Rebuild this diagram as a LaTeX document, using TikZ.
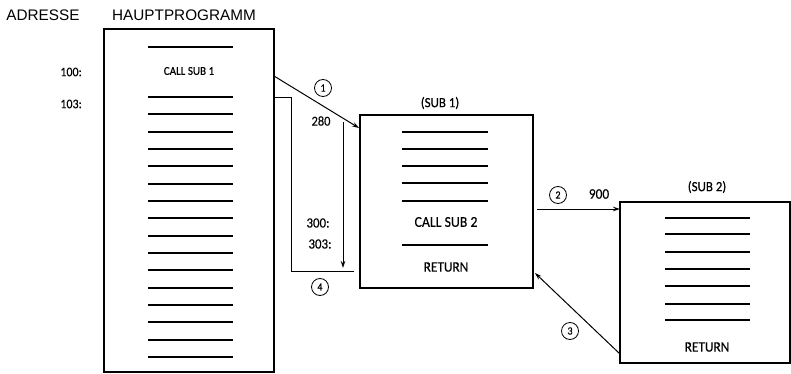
\documentclass[tikz,border=0pt]{standalone}
\usepackage{fontspec}
\setmainfont{Liberation Sans}
\newfontfamily\sm[FakeStretch=0.92,FakeBold=0.3]{Carlito}
\usetikzlibrary{arrows.meta}
\begin{document}
\begin{tikzpicture}[x=1pt,y=-1pt,
 box/.style={draw, line width=1.2pt, rectangle, inner sep=0pt, outer sep=0pt},
 codeline/.style={line width=1.1pt},
 lbl/.style={font=\sm\fontsize{#1}{#1}\selectfont, inner sep=0pt},
 hdr/.style={font=\fontsize{15.3}{15.3}\selectfont, inner sep=0pt},
 num/.style={draw, circle, line width=0.8pt, minimum size=17pt, inner sep=0pt, font=\sm\fontsize{11}{11}\selectfont},
 conn/.style={line width=1pt},
 arr/.style={conn, -{Stealth[length=7pt,width=4.5pt]}},
]
\useasboundingbox (0,0) rectangle (791,374);
% headers
\node[hdr] (adr) at (43,15) {ADRESSE};
\node[hdr] (hp) at (184,15) {HAUPTPROGRAMM};
% boxes
\node[box, minimum width=170pt, minimum height=343pt] (main) at (189,200.5) {};
\node[box, minimum width=173pt, minimum height=173pt] (sub1) at (446.5,201.5) {};
\node[box, minimum width=170pt, minimum height=161pt] (sub2) at (705,282.5) {};
% main program lines
\foreach \y in {47,97,114,132,149,166,184,201,218,236,253,270,288,305,322,340,357}{\draw[codeline] (148,\y) -- (233,\y);}
\node[lbl=12] (call1) at (189,71) {CALL SUB 1};
\node[lbl=13, anchor=east] (a100) at (82,72) {100:};
\node[lbl=13, anchor=east] (a103) at (82,104) {103:};
% sub1 contents
\foreach \y in {132,149,166,183,201,245}{\draw[codeline] (402,\y) -- (488,\y);}
\node[lbl=15] (call2) at (446,222) {CALL SUB 2};
\node[lbl=14.5] (ret1) at (446,267) {RETURN};
\node[lbl=14] (s1lbl) at (440,103) {(SUB 1)};
% sub2 contents
\foreach \y in {218,234,252,269,286,304,320}{\draw[codeline] (665,\y) -- (750,\y);}
\node[lbl=14.5] (ret2) at (707,347) {RETURN};
\node[lbl=14] (s2lbl) at (707,187) {(SUB 2)};
% addresses
\node[lbl=13.5] (a280) at (321,121) {280};
\node[lbl=14] (a300) at (318,223) {300:};
\node[lbl=14] (a303) at (320,244) {303:};
\node[lbl=14.5] (a900) at (599,194) {900};
% connector coordinates
\path (main.north east) ++(0,47) coordinate (a1s);
\path (sub1.north west) ++(-1,13) coordinate (a1e);
\path (main.north east) ++(0,69) coordinate (r4e);
\coordinate (r4c1) at (291,98);
\coordinate (r4c2) at (291,271);
\path (sub1.south west) ++(-6,-17) coordinate (r4s);
\coordinate (dts) at (343,122);
\coordinate (dte) at (343,268);
\path (sub1.north east) ++(4,94) coordinate (a2s);
\path (sub2.north west) ++(0,7) coordinate (a2e);
\path (sub2.south west) ++(0,-9) coordinate (a3s);
\path (sub1.south east) ++(2,-15) coordinate (a3e);
% connectors
\draw[arr] (a1s) -- (a1e);
\draw[conn] (r4s) -- (r4c2) -- (r4c1) -- (r4e);
\draw[arr] (dts) -- (dte);
\draw[arr] (a2s) -- (a2e);
\draw[arr] (a3s) -- (a3e);
% circled numbers
\node[num] (c1) at (323,88) {1};
\node[num] (c2) at (558,195) {2};
\node[num] (c3) at (570,331) {3};
\node[num] (c4) at (320,287) {4};
\end{tikzpicture}
\end{document}
